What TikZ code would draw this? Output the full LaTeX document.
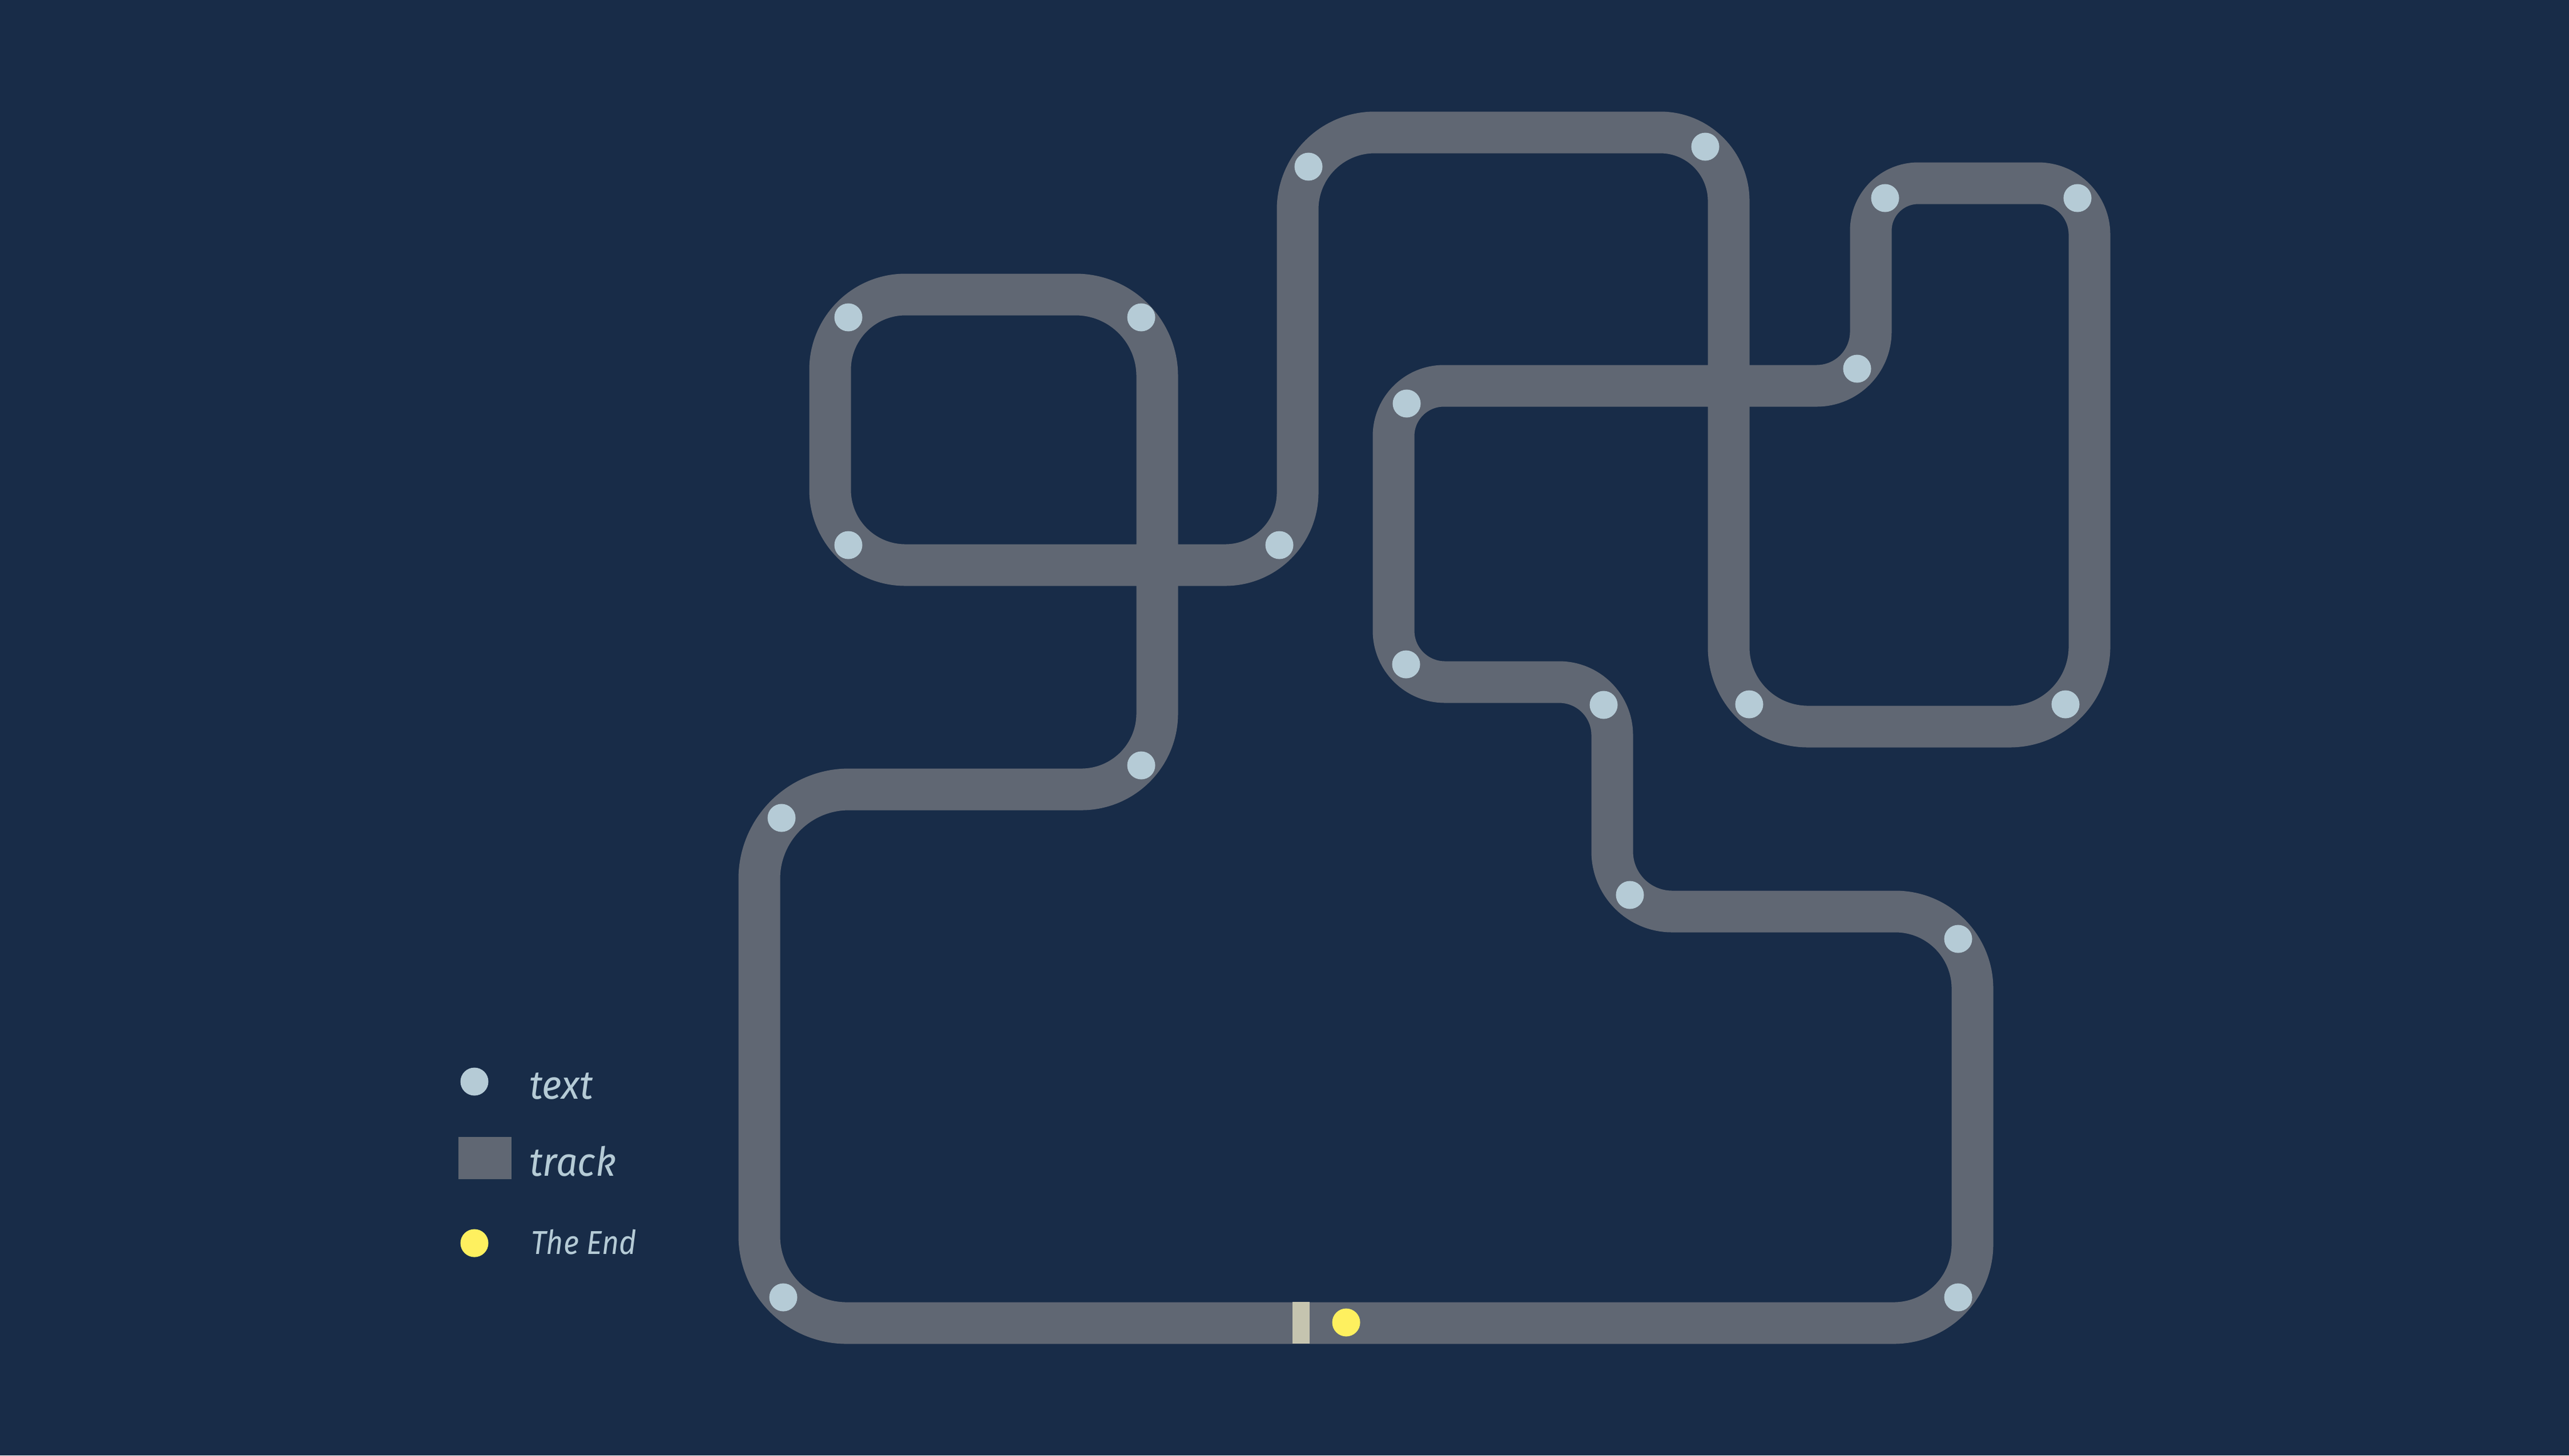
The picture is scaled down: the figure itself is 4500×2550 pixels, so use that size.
\documentclass[tikz,border=0pt]{standalone}
\usepackage{fontspec}
\setmainfont{Fira Sans}
\newfontfamily\legendfont{Fira Sans}[FakeStretch=0.95]
\newfontfamily\endfont{Fira Sans}[FakeStretch=0.9]
\definecolor{bgc}{HTML}{182C48}
\definecolor{trackc}{HTML}{606773}
\definecolor{dotc}{HTML}{B5CBD6}
\definecolor{endc}{HTML}{FEF05F}
\definecolor{markc}{HTML}{C5C4AF}
\tikzset{
  trackline/.style={draw=trackc, line width=14.6pt, line join=round},
  stopdot/.style={circle, fill=dotc, draw=none, inner sep=0pt, minimum size=9.8pt},
  enddot/.style={circle, fill=endc, draw=none, inner sep=0pt, minimum size=9.8pt},
  legendtext/.style={text=dotc, anchor=base west, inner sep=0pt, font=\legendfont\itshape\fontsize{14}{16}\selectfont},
}
\begin{document}
\begin{tikzpicture}[x=0.2pt,y=-0.2pt]
\useasboundingbox (0,0) rectangle (4500,2550);
\fill[bgc] (0,0) rectangle (4500,2550);
% track
\draw[trackline] (1483,2318) -- (3317,2318)
  .. controls (3393.2,2318) and (3455,2256.2) .. (3455,2180) -- (3455,1732)
  .. controls (3455,1657.4) and (3394.6,1597) .. (3320,1597) -- (2929,1597)
  .. controls (2871,1597) and (2824,1550) .. (2824,1492) -- (2824,1288)
  .. controls (2824,1236.6) and (2782.4,1195) .. (2731,1195) -- (2531,1195)
  .. controls (2481.3,1195) and (2441,1154.7) .. (2441,1105) -- (2441,764)
  .. controls (2441,715.4) and (2480.4,676) .. (2529,676) -- (3182,676)
  .. controls (3234.5,676) and (3277,633.5) .. (3277,581) -- (3277,404)
  .. controls (3277,358.2) and (3314.2,321) .. (3360,321) -- (3570,321)
  .. controls (3619.7,321) and (3660,361.3) .. (3660,411) -- (3660,1133)
  .. controls (3660,1210.3) and (3597.3,1273) .. (3520,1273) -- (3167,1273)
  .. controls (3090.2,1273) and (3028,1210.8) .. (3028,1134) -- (3028,352)
  .. controls (3028,285.7) and (2974.3,232) .. (2908,232) -- (2408,232)
  .. controls (2333.4,232) and (2273,292.4) .. (2273,367) -- (2273,863)
  .. controls (2273,933.1) and (2216.1,990) .. (2146,990) -- (1586,990)
  .. controls (1513.1,990) and (1454,930.9) .. (1454,858) -- (1454,648)
  .. controls (1454,575.1) and (1513.1,516) .. (1586,516) -- (1884,516)
  .. controls (1963,516) and (2027,580) .. (2027,659) -- (2027,1250)
  .. controls (2027,1323.5) and (1967.5,1383) .. (1894,1383) -- (1487,1383)
  .. controls (1400.3,1383) and (1330,1453.3) .. (1330,1540) -- (1330,2165)
  .. controls (1330,2249.5) and (1398.5,2318) .. (1483,2318) -- cycle;
% start/finish mark
\fill[markc] (2264,2281) rectangle (2294,2354);
\node[enddot] (finish) at (2358,2317) {};
% stops
\node[stopdot] (s1) at (1372,2273) {};
\node[stopdot] (s2) at (3430,2273) {};
\node[stopdot] (s3) at (3430,1645) {};
\node[stopdot] (s4) at (2855,1568) {};
\node[stopdot] (s5) at (2809,1235) {};
\node[stopdot] (s6) at (2463,1164) {};
\node[stopdot] (s7) at (2464,707) {};
\node[stopdot] (s8) at (3253,646) {};
\node[stopdot] (s9) at (3302,347) {};
\node[stopdot] (s10) at (3639,347) {};
\node[stopdot] (s11) at (3618,1234) {};
\node[stopdot] (s12) at (3064,1234) {};
\node[stopdot] (s13) at (2987,257) {};
\node[stopdot] (s14) at (2292,292) {};
\node[stopdot] (s15) at (2241,955) {};
\node[stopdot] (s16) at (1486,955) {};
\node[stopdot] (s17) at (1486,556) {};
\node[stopdot] (s18) at (1999,556) {};
\node[stopdot] (s19) at (1999,1341) {};
\node[stopdot] (s20) at (1369,1433) {};
% legend
\node[stopdot] (ltextdot) at (831,1895) {};
\node[legendtext] (ltext) at (926,1925) {text};
\fill[trackc] (803,1992) rectangle (896,2066);
\node[legendtext] (ltrack) at (926,2060) {track};
\node[enddot] (lenddot) at (831,2178) {};
\node[legendtext, font=\endfont\itshape\fontsize{11.6}{14}\selectfont] (lend) at (929,2197) {The End};
\end{tikzpicture}
\end{document}
